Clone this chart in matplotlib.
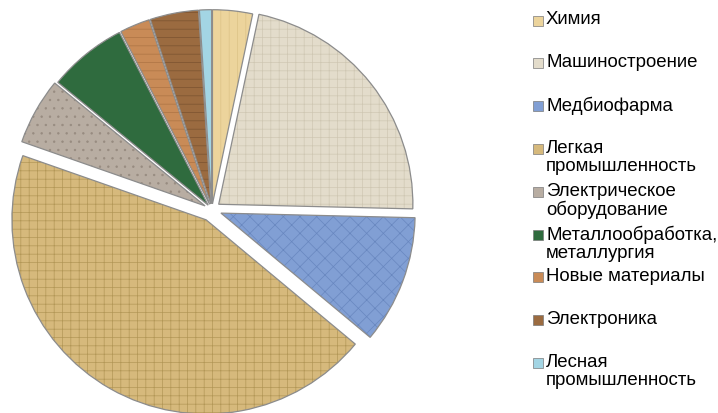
import matplotlib
matplotlib.use("Agg")
from matplotlib import pyplot as plt
from matplotlib.patches import Rectangle

plt.rcParams['font.family'] = ['Liberation Sans', 'DejaVu Sans']
plt.rcParams['hatch.linewidth'] = 0.5

#Data
labels = ['Химия', 'Машиностроение', 'Медбиофарма', 'Легкая\nпромышленность',
          'Электрическое\nоборудование', 'Металлообработка,\nметаллургия',
          'Новые материалы', 'Электроника', 'Лесная\nпромышленность']
shares = [3.3, 21.9, 10.6, 44.0, 5.5, 6.5, 2.5, 4.0, 1.0]

#Styles
colors = ['#ecd49c', '#e3dccb', '#819fd4', '#d6b97c', '#b8ada2',
          '#2f6b3e', '#c98b57', '#9b6b40', '#a3d5e4']
hatch_colors = ['#dcc286', '#cfc7b3', '#6887bf', '#b39757', '#978b80',
                '#285c36', '#ad7444', '#7a5230', '#8cc4d4']
hatches = ['||', '++', 'xx', '++', '..', '', '--', '--', '']
explode = [0.03, 0.045, 0.05, 0.06, 0.04, 0.03, 0.03, 0.03, 0.03]

fig = plt.figure(figsize=(7.18, 4.14), dpi=100)
ax = fig.add_axes([0.0165, 0.008, 400 / 718, 400 / 414])

#Filled, textured wedges
wedges, _ = ax.pie(shares, explode=explode, startangle=90, counterclock=False,
                   colors=colors, wedgeprops=dict(linewidth=0))
for w, h, hc in zip(wedges, hatches, hatch_colors):
    w.set_hatch(h)
    w.set_edgecolor(hc)

#Outlines
ax.pie(shares, explode=explode, startangle=90, counterclock=False,
       wedgeprops=dict(fill=False, edgecolor='#8c8c8c', linewidth=0.9))

ax.set_xlim(-1.03, 1.03)
ax.set_ylim(-1.03, 1.03)
ax.set_aspect('equal')
ax.axis('off')

#Legend
top = 1 - 21.5 / 414
step = 42.8 / 414
for i, (lab, c) in enumerate(zip(labels, colors)):
    y = top - i * step
    fig.patches.append(Rectangle((533 / 718, y - 5 / 414), 10 / 718, 10 / 414,
                                 transform=fig.transFigure, facecolor=c,
                                 edgecolor='#7a7a7a', linewidth=0.5))
    fig.text(546 / 718, y + 10 / 414, lab, fontsize=13.4, va='top', ha='left',
             linespacing=1.08, color='black')

fig.savefig('out.png', dpi=100)
